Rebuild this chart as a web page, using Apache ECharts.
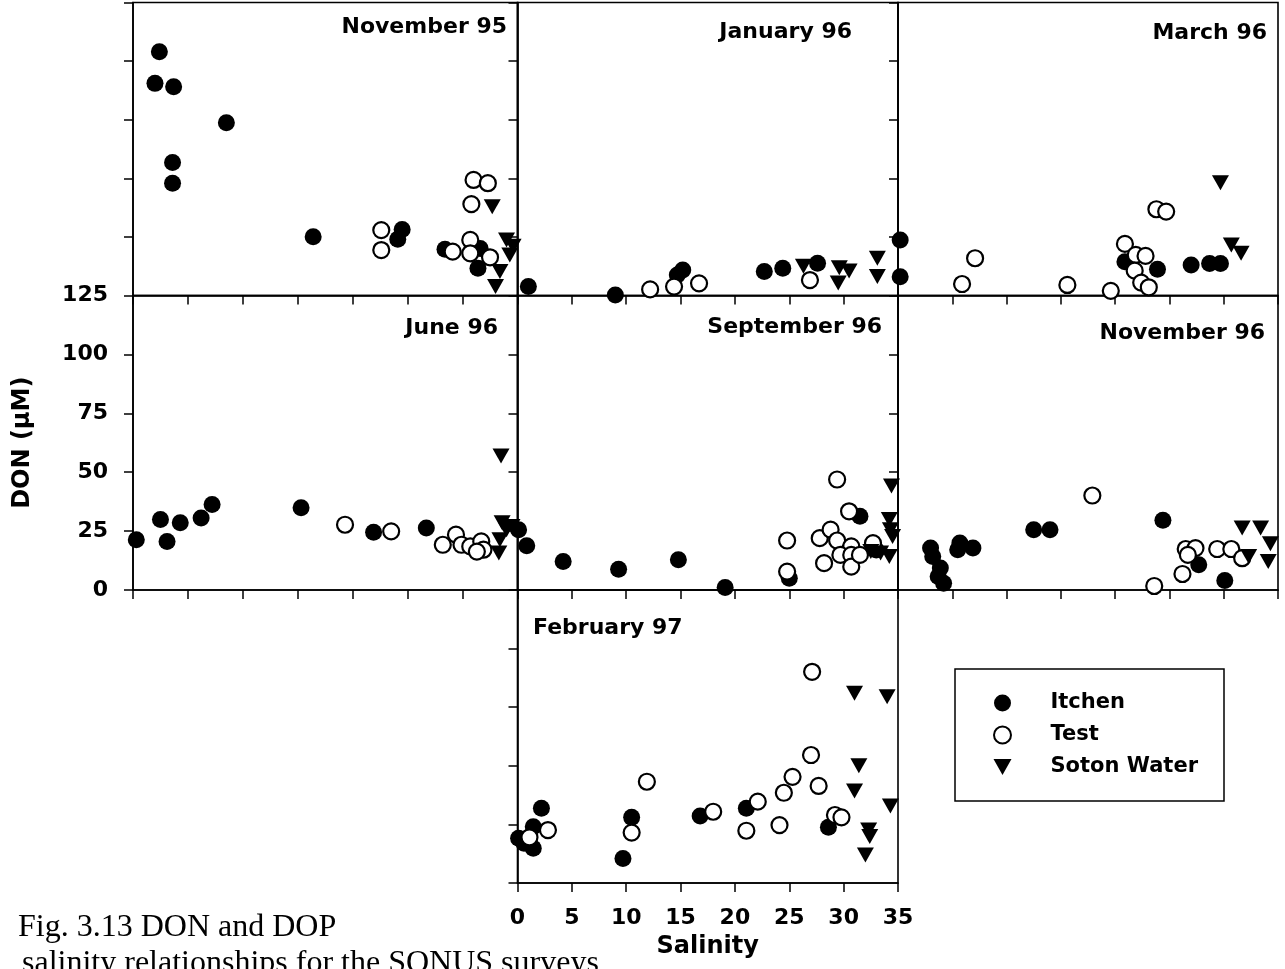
<!DOCTYPE html>
<html>
<head>
<meta charset="utf-8">
<script src="https://cdn.jsdelivr.net/npm/echarts@6/dist/echarts.min.js"></script>
<style>
  html, body { margin: 0; padding: 0; background: #fff; }
  #chart { width: 1285px; height: 969px; }
</style>
</head>
<body>
<div id="chart"></div>
<script>
// axis ticks
const salinityTicks = [0, 5, 10, 15, 20, 25, 30, 35];
const donTicks = [0, 25, 50, 75, 100, 125];
const seriesNames = ["Itchen", "Test", "Soton Water"];
const panelNames = ["November 95", "January 96", "March 96", "June 96", "September 96", "November 96", "February 97"];

// [salinity, DON]
const nov95Itchen = [[2.4,104.0],[2.0,90.5],[3.7,89.1],[8.5,73.7],[3.6,56.7],[3.6,47.9],[16.4,25.1],[24.5,28.2],[24.1,24.0],[28.4,19.7],[31.6,20.1],[31.4,11.6]];
const nov95Test = [[22.6,27.9],[22.6,19.4],[29.1,18.7],[30.7,23.7],[30.7,18.0],[31.0,49.3],[32.3,47.9],[30.8,39.0],[32.5,16.3]];
const nov95Soton = [[32.7,37.9],[34.0,23.7],[34.3,17.3],[33.4,10.2],[33.0,3.8],[34.6,21.0]];

const jan96Itchen = [[1.0,3.8],[9.0,0.2],[15.2,10.9],[14.7,8.7],[22.7,10.2],[24.4,11.6],[27.6,13.8]];
const jan96Test = [[12.2,2.6],[14.4,3.8],[16.7,5.2],[26.9,6.6]];
const jan96Soton = [[26.3,12.5],[29.6,11.8],[30.5,10.4],[29.5,5.3],[33.1,15.9],[33.1,8.1]];

const mar96Itchen = [[0.2,23.7],[0.2,8.0],[20.9,14.4],[23.9,11.2],[27.0,13.0],[28.7,13.7],[29.7,13.7]];
const mar96Test = [[7.1,15.9],[5.9,4.9],[15.6,4.5],[19.6,2.0],[20.9,22.0],[21.9,17.3],[22.8,16.9],[21.8,10.6],[22.4,5.5],[23.1,3.5],[23.8,36.8],[24.7,35.8]];
const mar96Soton = [[29.7,48.1],[30.7,21.5],[31.6,18.0]];

const jun96Itchen = [[0.3,21.3],[2.5,29.9],[3.1,20.6],[4.3,28.5],[6.2,30.6],[7.2,36.3],[15.3,34.9],[21.9,24.5],[26.7,26.3]];
const jun96Test = [[19.3,27.7],[23.5,24.9],[28.2,19.2],[29.4,23.5],[29.9,19.2],[30.7,18.5],[31.7,20.6],[31.9,17.1],[31.3,16.3]];
const jun96Soton = [[33.5,56.9],[33.6,28.5],[34.0,25.6],[33.4,21.3],[33.3,15.7],[34.5,27.0]];

const sep96Itchen = [[0.1,25.6],[0.85,18.8],[4.2,12.1],[9.3,8.8],[14.8,12.8],[19.1,1.1],[25.0,5.0],[31.5,31.3],[33.0,17.0]];
const sep96Test = [[29.4,46.9],[30.5,33.4],[24.8,21.0],[24.8,7.8],[27.8,22.0],[28.8,25.6],[29.4,21.0],[28.2,11.4],[30.7,18.5],[29.7,14.9],[30.7,14.9],[30.7,9.9],[31.5,14.9],[32.7,19.9]];
const sep96Soton = [[34.4,44.1],[34.2,29.9],[34.3,25.6],[34.5,22.7],[32.5,16.3],[33.4,15.7],[34.2,14.2]];

const nov96Itchen = [[3.0,17.8],[3.2,14.2],[3.9,9.3],[3.7,5.7],[4.2,2.9],[5.7,19.9],[5.5,17.1],[6.9,17.8],[12.5,25.6],[14.0,25.6],[24.4,29.6],[27.7,10.7],[30.1,4.0]];
const nov96Test = [[17.9,40.1],[23.6,1.7],[26.2,6.8],[26.5,17.4],[27.4,17.8],[26.7,14.9],[29.4,17.4],[30.7,17.4],[31.7,13.5]];
const nov96Soton = [[31.7,26.3],[33.4,26.3],[34.3,19.6],[32.3,14.2],[34.1,12.1]];

const feb97Itchen = [[0.1,19.1],[0.6,17.0],[1.45,24.0],[1.45,14.8],[2.2,31.9],[9.7,10.5],[10.5,28.0],[16.8,28.6],[21.05,31.9],[28.6,23.8]];
const feb97Test = [[1.1,19.5],[2.8,22.6],[10.5,21.5],[11.9,43.2],[18.0,30.4],[21.05,22.3],[22.1,34.7],[24.1,24.7],[24.5,38.5],[25.3,45.3],[27.0,54.6],[27.1,90.1],[27.7,41.4],[29.2,29.0],[29.8,28.0]];
const feb97Soton = [[31.0,80.9],[34.0,79.5],[31.4,50.0],[31.0,39.2],[34.3,32.8],[32.3,22.6],[32.4,19.8],[32.0,11.9]];

const panelData = [
  [nov95Itchen, nov95Test, nov95Soton],
  [jan96Itchen, jan96Test, jan96Soton],
  [mar96Itchen, mar96Test, mar96Soton],
  [jun96Itchen, jun96Test, jun96Soton],
  [sep96Itchen, sep96Test, sep96Soton],
  [nov96Itchen, nov96Test, nov96Soton],
  [feb97Itchen, feb97Test, feb97Soton]
];

const FONT = '"DejaVu Sans", "Liberation Sans", sans-serif';

// panel boxes (px)
const grids = [
  { left: 133,   top: 2.5,   width: 384.5, height: 293 },
  { left: 517.5, top: 2.5,   width: 380.5, height: 293 },
  { left: 898,   top: 2.5,   width: 380,   height: 293 },
  { left: 133,   top: 295.5, width: 384.5, height: 294.5 },
  { left: 517.5, top: 295.5, width: 380.5, height: 294.5 },
  { left: 898,   top: 295.5, width: 380,   height: 294.5 },
  { left: 517.5, top: 590,   width: 380.5, height: 293 }
];

// where each panel's label sits
const titlePos = [
  { x: 507, y: 27, align: "right" },
  { x: 852, y: 32, align: "right" },
  { x: 1267, y: 33, align: "right" },
  { x: 498, y: 328, align: "right" },
  { x: 882, y: 327, align: "right" },
  { x: 1265, y: 333, align: "right" },
  { x: 533, y: 628, align: "left" }
];

const symbols = [
  { symbol: "circle", symbolSize: 17, itemStyle: { color: "#000", opacity: 1 } },
  { symbol: "circle", symbolSize: 16, itemStyle: { color: "#fff", borderColor: "#000", borderWidth: 2.2, opacity: 1 } },
  { symbol: "path://M0,0 L20,0 L10,18 Z", symbolSize: [17, 15], itemStyle: { color: "#000", opacity: 1 } }
];

const axisLine = { show: true, lineStyle: { color: "#000", width: 1.6 } };
const axisTick = { show: true, inside: false, length: 9, lineStyle: { color: "#000", width: 1.5 } };

const xAxes = grids.map((g, i) => ({
  type: "value",
  gridIndex: i,
  min: salinityTicks[0],
  max: salinityTicks[salinityTicks.length - 1],
  interval: 5,
  axisLine, axisTick,
  splitLine: { show: false },
  axisLabel: {
    show: i === 6, margin: 24, color: "#000",
    fontFamily: FONT, fontWeight: "bold", fontSize: 22
  },
  name: i === 6 ? "Salinity" : "",
  nameLocation: "middle",
  nameGap: 52,
  nameTextStyle: { fontFamily: FONT, fontWeight: "bold", fontSize: 24, color: "#000" }
}));

const yAxes = grids.map((g, i) => ({
  type: "value",
  gridIndex: i,
  min: donTicks[0],
  max: donTicks[donTicks.length - 1],
  interval: 25,
  axisLine, axisTick,
  splitLine: { show: false },
  axisLabel: {
    show: i === 3, margin: 25, color: "#000",
    fontFamily: FONT, fontWeight: "bold", fontSize: 22
  },
  name: i === 3 ? "DON (\u00b5M)" : "",
  nameLocation: "middle",
  nameGap: 98,
  nameRotate: 90,
  nameTextStyle: { fontFamily: FONT, fontWeight: "bold", fontSize: 24, color: "#000" }
}));

const series = [];
panelData.forEach((sets, i) => {
  sets.forEach((pts, k) => {
    series.push(Object.assign({
      type: "scatter",
      name: seriesNames[k],
      xAxisIndex: i,
      yAxisIndex: i,
      clip: false,
      data: pts,
      z: 2 + k
    }, symbols[k]));
  });
});

const titles = panelNames.map((t, i) => ({
  type: "text",
  x: titlePos[i].x,
  y: titlePos[i].y,
  style: {
    text: t, fill: "#000",
    fontFamily: FONT, fontWeight: "bold", fontSize: 22,
    textAlign: titlePos[i].align, textVerticalAlign: "middle"
  }
}));

const caption = [
  { text: "Fig. 3.13 DON and DOP", y: 928 },
  { text: "salinity relationships for the SONUS surveys", y: 964 }
].map((c, i) => ({
  type: "text",
  x: i === 0 ? 18 : 22,
  y: c.y,
  style: {
    text: c.text, fill: "#000",
    fontFamily: '"Liberation Serif", "Times New Roman", serif', fontSize: 32,
    textAlign: "left", textVerticalAlign: "middle"
  }
}));

const chart = echarts.init(document.getElementById("chart"), null, { renderer: "canvas" });
chart.setOption({
  backgroundColor: "#fff",
  animation: false,
  grid: grids.map(g => Object.assign({
    show: true, borderColor: "#000", borderWidth: 1.6, backgroundColor: "transparent"
  }, g)),
  xAxis: xAxes,
  yAxis: yAxes,
  legend: {
    data: seriesNames,
    orient: "vertical",
    left: 955,
    top: 669,
    padding: [23, 26, 23, 38],
    itemGap: 10,
    itemWidth: 18,
    itemHeight: 17,
    borderColor: "#000",
    borderWidth: 1.5,
    selectedMode: false,
    textStyle: {
      fontFamily: FONT, fontWeight: "bold", fontSize: 21, color: "#000",
      lineHeight: 22, padding: [0, 0, 0, 34]
    }
  },
  series: series,
  graphic: titles.concat(caption)
});
</script>
</body>
</html>
